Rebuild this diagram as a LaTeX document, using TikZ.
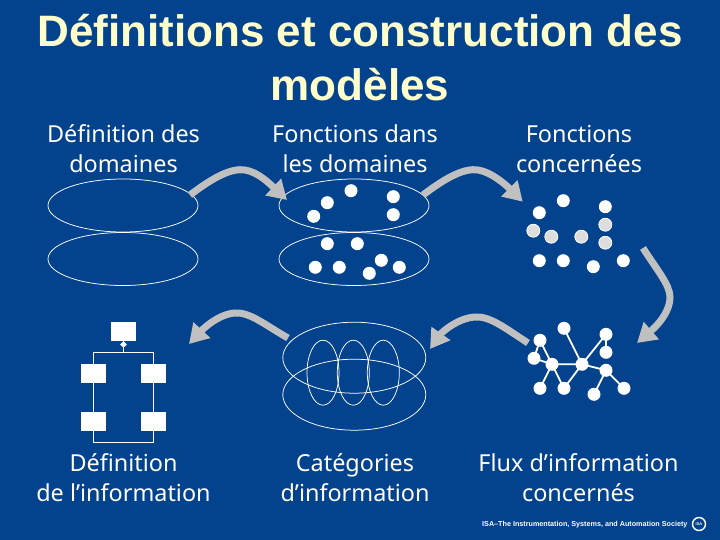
\documentclass[tikz,border=0pt]{standalone}
\usepackage{fontspec}
\setmainfont{Liberation Sans}
\newfontfamily\lblfont{Noto Sans}
\usetikzlibrary{arrows.meta,shapes.geometric}
\definecolor{bgblue}{RGB}{3,66,140}
\definecolor{titlecol}{RGB}{255,255,204}
\definecolor{arrowgrey}{RGB}{192,192,192}
\definecolor{dotgrey}{RGB}{221,221,221}
\tikzset{
  x=1pt,y=-1pt,
  titletext/.style={text=titlecol,font=\bfseries\fontsize{44}{54}\selectfont,align=center,inner sep=0pt},
  lbl/.style={text=white,font=\lblfont\fontsize{23.4}{30}\selectfont,align=center,inner sep=0pt},
  oval/.style={draw=white,line width=0.75pt,shape=ellipse,inner sep=0pt},
  bigoval/.style={oval,minimum width=150pt,minimum height=53pt},
  catoval/.style={oval,minimum width=143pt,minimum height=71pt},
  smalloval/.style={oval,minimum width=32pt,minimum height=65pt},
  dot/.style={circle,fill=white,draw=none,minimum size=13pt,inner sep=0pt},
  gdot/.style={circle,fill=dotgrey,draw=white,line width=0.8pt,minimum size=13pt,inner sep=0pt},
  flow/.style={draw=arrowgrey,line width=7pt,-{Triangle[length=19pt,width=22pt,fill=arrowgrey]}},
  netline/.style={draw=white,line width=1.8pt},
  boxnode/.style={fill=white,draw=none,minimum width=25pt,minimum height=19pt,inner sep=0pt},
  wire/.style={draw=white,line width=1.1pt},
}
\begin{document}
\begin{tikzpicture}
\path[use as bounding box,fill=bgblue] (0,0) rectangle (720,540);
% title
\node[titletext] (title) at (360,58) {Définitions et construction des\\modèles};
% labels
\node[lbl] (l1) at (123.5,148.5) {Définition des\\domaines};
\node[lbl] (l2) at (355,148.5) {Fonctions dans\\les domaines};
\node[lbl] (l3) at (579,148.5) {Fonctions\\concernées};
\node[lbl] (l4) at (123.5,477.5) {Définition\\de l’information};
\node[lbl] (l5) at (355,477.5) {Catégories\\d’information};
\node[lbl] (l6) at (578.5,477.5) {Flux d’information\\concernés};
% domain ovals
\node[bigoval] (d1) at (123,205.5) {};
\node[bigoval] (d2) at (123,259) {};
\node[bigoval] (e1) at (354,205.5) {};
\node[bigoval] (e2) at (354,259) {};
% column 2 dots
\foreach \n/\p in {a/{351,190.7},b/{327.3,202.7},c/{313.7,216.3},d/{393.3,196.7},e/{393.3,214.7},f/{327.3,243.7},g/{357.3,243.7},h/{315.3,267.3},i/{339.3,267.3},j/{369.3,273.3},k/{381.3,260.3},m/{399.3,267.3}}
  \node[dot] (s\n) at (\p) {};
% column 3 dots
\foreach \n/\p in {a/{563.3,200.7},b/{539.3,212.7},c/{605.3,206.7},h/{539.3,260.7},i/{563.3,260.7},j/{593.3,266.7},k/{623.3,260.7}}
  \node[dot] (t\n) at (\p) {};
\foreach \n/\p in {d/{533.3,230.7},e/{551.3,236.7},f/{581.3,236.7},g/{605.3,224.7},m/{605.3,242.7}}
  \node[gdot] (t\n) at (\p) {};
% network nodes
\foreach \n/\p in {a/{564,328.3},b/{540,340.3},c/{606,334.3},d/{534,358.3},e/{552,364.3},f/{582,364.3},g/{606,352.3},h/{606,370.3},i/{540,388.3},j/{564,388.3},k/{594,394.3},m/{624,388.3}}
  \node[dot] (n\n) at (\p) {};
\draw[netline] (na.center)--(nf.center) (nc.center)--(nf.center) (nc.center)--(ng.center)
  (nf.center)--(nh.center) (ne.center)--(nf.center) (nb.center)--(nd.center) (nb.center)--(ne.center)
  (nd.center)--(ne.center) (ne.center)--(ni.center) (ne.center)--(nj.center) (nf.center)--(nj.center)
  (nh.center)--(nk.center) (nh.center)--(nm.center);
% categories
\node[catoval] (c1) at (354.3,357.7) {};
\node[catoval] (c2) at (354.3,394.7) {};
\node[smalloval] (c3) at (323,372.7) {};
\node[smalloval] (c4) at (353.3,372.7) {};
\node[smalloval] (c5) at (383.3,372.7) {};
% structure
\node[boxnode] (b0) at (123.5,331.5) {};
\node[boxnode] (b1) at (93.5,373.5) {};
\node[boxnode] (b2) at (153.5,373.5) {};
\node[boxnode] (b3) at (93.5,421.5) {};
\node[boxnode] (b4) at (153.5,421.5) {};
\coordinate (jt) at (123.5,352.5);
\coordinate (jb) at (123.5,442.5);
\draw[wire] (b0.south)--(jt);
\draw[wire] (b1.north)|-(jt)-|(b2.north);
\draw[wire] (b1.south)--(b3.north);
\draw[wire] (b2.south)--(b4.north);
\draw[wire] (b3.south)|-(jb)-|(b4.south);
\node[diamond,fill=white,minimum size=7pt,inner sep=0pt] (dm) at (123.5,344.5) {};
% arrows
\coordinate (a1s) at (190,195); \coordinate (a1e) at (287,200);
\coordinate (a2s) at (423,195); \coordinate (a2e) at (522.7,201.7);
\coordinate (a3s) at (643,248); \coordinate (a3e) at (637,343);
\coordinate (a4s) at (528,343); \coordinate (a4e) at (430,349);
\coordinate (a5s) at (288,338); \coordinate (a5e) at (189,344);
\path[flow] (a1s) .. controls (215,176) and (232,168) .. (245,170) .. controls (258,172) and (270,184) .. (a1e);
\path[flow] (a2s) .. controls (448,176) and (465,168) .. (478,170) .. controls (491,172) and (505,184) .. (a2e);
\path[flow] (a3s) .. controls (657,270) and (670,285) .. (670,297) .. controls (670,315) and (652,330) .. (a3e);
\path[flow] (a4s) .. controls (505,328) and (490,316) .. (475,317) .. controls (458,318) and (442,332) .. (a4e);
\path[flow] (a5s) .. controls (265,325) and (250,312) .. (235,313) .. controls (218,314) and (202,330) .. (a5e);
% footer
\node[text=white,font=\bfseries\fontsize{7.2}{9}\selectfont,inner sep=0pt,anchor=west] (soc) at (482,524.5) {ISA–The Instrumentation, Systems, and Automation Society};
\node[circle,draw=white,line width=1.4pt,minimum size=13pt,inner sep=0pt,text=white,font=\bfseries\fontsize{4}{4}\selectfont] (logo) at (699,524) {ISA};
\end{tikzpicture}
\end{document}
